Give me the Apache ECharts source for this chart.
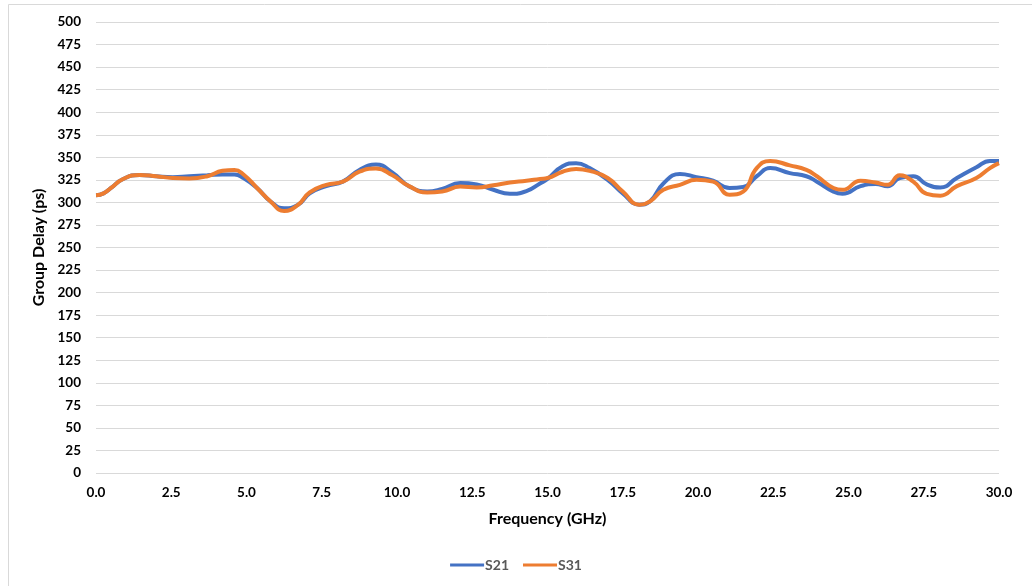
<!DOCTYPE html>
<html>
<head>
	<meta charset="utf-8">
	<title>Group Delay</title>
	<style type="text/css">
		html, body { margin: 0; padding: 0; background: #fff; }
		#main { width: 1032px; height: 586px; }
	</style>
	<script src="https://cdn.jsdelivr.net/npm/echarts@6/dist/echarts.min.js"></script>
</head>
<body>
	<div id="main"></div>
	<script type="text/javascript">
		// frequency points (GHz) and group delay readings (ps)
		var freqS21 = [0, 0.25, 0.5, 0.9, 1.45, 2.0, 2.55, 3.1, 3.7, 4.2, 4.6, 4.9, 5.35, 5.8, 6.25, 6.7, 7.1, 7.65, 8.2, 8.75,
			9.3, 9.85, 10.4, 11.0, 11.5, 12.1, 12.65, 13.2, 13.75, 14.3, 14.75, 15.0, 15.5, 15.95, 16.4, 17.0, 17.5, 18.05, 18.4, 18.85,
			19.4, 19.95, 20.5, 21.05, 21.5, 21.95, 22.4, 23.05, 23.6, 23.95, 24.5, 24.8, 25.4, 25.9, 26.3, 26.7, 27.15, 27.6, 28.05, 28.6,
			29.25, 29.7, 30];
		var delayS21 = [308, 310, 316, 326, 330.5, 329, 328, 329, 330, 331, 331, 327, 316, 301, 293.5, 297, 310, 318, 323, 336,
			342, 333, 318, 312, 315, 321.5, 320, 314, 309.5, 312.5, 321, 326, 340, 343.5, 338, 325, 310, 297.5, 301, 321,
			331.5, 328, 324, 316, 317, 329, 338, 332.5, 329, 323, 312, 309.5, 318, 320.5, 318, 327, 329, 320, 316.5, 327,
			339, 346, 346];

		var freqS31 = freqS21;
		var delayS31 = [308, 310, 316, 326, 330.5, 329, 327, 326.5, 329, 335, 336, 331, 316, 301, 290.5, 297, 311, 319.5, 323, 334,
			337.5, 330, 318, 311, 312, 317.5, 316.5, 319, 322, 324, 326, 327, 334, 337, 335, 327, 312, 297.5, 301, 314,
			319.5, 325, 323, 308.5, 312, 338, 346, 341, 336, 329, 316, 314, 324, 322, 319.5, 330, 323, 309.5, 307.5, 318,
			327, 338, 343.5];

		function pairs(xs, ys) {
			var out = [];
			for (var i = 0; i < xs.length; i++) out.push([xs[i], ys[i]]);
			return out;
		}

		var font = 'Lato, "Open Sans", sans-serif';
		var chart = echarts.init(document.getElementById('main'));
		var option = {
			backgroundColor: '#fff',
			animation: false,
			grid: { left: 96, right: 33, top: 22, bottom: 113 },
			graphic: [
				{ type: 'line', shape: { x1: 8.5, y1: 4.5, x2: 1032, y2: 4.5 }, style: { stroke: '#d9d9d9', lineWidth: 1 } },
				{ type: 'line', shape: { x1: 8.5, y1: 4.5, x2: 8.5, y2: 586 }, style: { stroke: '#d9d9d9', lineWidth: 1 } }
			],
			xAxis: {
				type: 'value', min: 0, max: 30, interval: 2.5,
				name: 'Frequency (GHz)', nameLocation: 'middle', nameGap: 38,
				nameTextStyle: { fontFamily: font, fontWeight: 'bold', fontSize: 16, color: '#000' },
				axisLine: { show: false }, axisTick: { show: false },
				axisLabel: { fontFamily: font, fontWeight: 'bold', fontSize: 13.5, color: '#000', margin: 13,
					formatter: function (v) { return v.toFixed(1); } },
				splitLine: { show: false }
			},
			yAxis: {
				type: 'value', min: 0, max: 500, interval: 25,
				name: 'Group Delay (ps)', nameLocation: 'middle', nameGap: 47,
				nameTextStyle: { fontFamily: font, fontWeight: 'bold', fontSize: 16, color: '#000' },
				axisLine: { show: false }, axisTick: { show: false },
				axisLabel: { fontFamily: font, fontWeight: 'bold', fontSize: 13.5, color: '#000', margin: 15 },
				splitLine: { lineStyle: { color: '#d9d9d9', width: 1 } }
			},
			legend: {
				bottom: 9, left: 'center', itemWidth: 34, itemHeight: 3, itemGap: 14,
				icon: 'rect',
				textStyle: { fontFamily: font, fontWeight: 'bold', fontSize: 14, color: '#595959', padding: [0, 0, 0, -4] },
				data: ['S21', 'S31']
			},
			series: [
				{ name: 'S21', type: 'line', smooth: 0.5, showSymbol: false, color: '#4472c4',
					lineStyle: { width: 4 }, data: pairs(freqS21, delayS21) },
				{ name: 'S31', type: 'line', smooth: 0.5, showSymbol: false, color: '#ed7d31',
					lineStyle: { width: 4 }, data: pairs(freqS31, delayS31) }
			]
		};
		chart.setOption(option);
	</script>
</body>
</html>
